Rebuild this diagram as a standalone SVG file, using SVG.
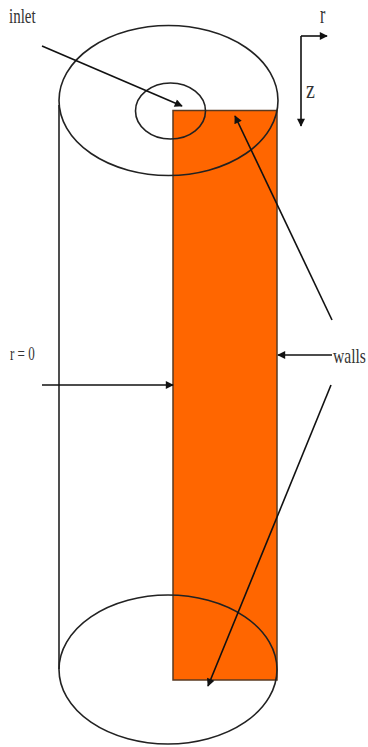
<svg xmlns="http://www.w3.org/2000/svg" width="368" height="747" viewBox="0 0 368 747">
<style>
.o{fill:none;stroke:#222;stroke-width:1.600}
.c{fill:none;stroke:#111;stroke-width:1.600}
text{font-family:"Liberation Serif",serif;fill:#333}
</style>
<defs>
<marker id="a" viewBox="0 0 10 10" refX="9" refY="5" markerWidth="9" markerHeight="8" markerUnits="userSpaceOnUse" orient="auto"><path d="M0 0L10 5L0 10Z" fill="#111"/></marker>
</defs>
<rect width="368" height="747" fill="#fff"/>
<g id="wall-section"><rect x="173" y="110.500" width="104" height="569.500" fill="#f60" stroke="#5a3a20" stroke-width="1.500"/></g>
<g id="cylinder">
<ellipse id="top" class="o" cx="168.500" cy="100.500" rx="109.500" ry="75"/>
<ellipse id="inlet-ring" class="o" cx="170.500" cy="111" rx="35" ry="28"/>
<ellipse id="bottom" class="o" cx="168" cy="669.500" rx="109" ry="74.500"/>
<path class="o" d="M59 105V669"/>
</g>
<g id="connectors">
<path class="c" marker-end="url(#a)" d="M42 46L182 106"/>
<path class="c" marker-end="url(#a)" d="M301 36H327"/>
<path class="c" marker-end="url(#a)" d="M301 36V126"/>
<path class="c" marker-end="url(#a)" d="M332 320L235 116"/>
<path class="c" marker-end="url(#a)" d="M332 355H278"/>
<path class="c" marker-end="url(#a)" d="M331 385L208 686"/>
<path class="c" marker-end="url(#a)" d="M42 385H173"/>
</g>
<g id="labels">
<text transform="translate(9 23) scale(.75 1)" font-size="20">inlet</text>
<text transform="translate(320 23) scale(.8 1.250)" font-size="20">r</text>
<text transform="translate(306 98) scale(1 1.300)" font-size="20">z</text>
<text transform="translate(10 360) scale(.93 1.270)" font-size="14">r = 0</text>
<text transform="translate(333 363) scale(.78 1)" font-size="20">walls</text>
</g>
</svg>
